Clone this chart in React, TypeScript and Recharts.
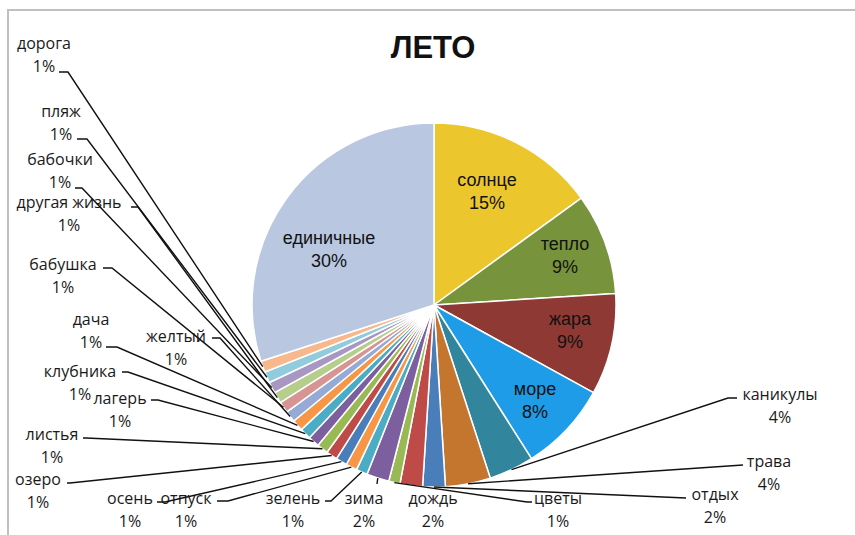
import React from 'react';
import { PieChart, Pie, Cell } from 'recharts';

// words named by respondents, clockwise from 12 o'clock
const WORDS = [
  'солнце', 'тепло', 'жара', 'море', 'каникулы', 'трава', 'отдых', 'дождь', 'цветы', 'зима',
  'зелень', 'отпуск', 'осень', 'озеро', 'листья', 'лагерь', 'клубника', 'дача', 'желтый',
  'бабушка', 'другая жизнь', 'бабочки', 'пляж', 'дорога', 'единичные',
];

// share of answers, %
const SHARES = [15, 9, 9, 8, 4, 4, 2, 2, 1, 2, 1, 1, 1, 1, 1, 1, 1, 1, 1, 1, 1, 1, 1, 1, 30];

const COLORS = [
  '#EBC72D', '#77933C', '#8F3934', '#1F9CE8', '#31859C', '#C4762F', '#4A7EBB', '#BE4B48',
  '#98B954', '#7D5FA0', '#4BACC6', '#F79646', '#4A7EBB', '#BE4B48', '#98B954', '#7D5FA0',
  '#4BACC6', '#F79646', '#95ABD5', '#D69592', '#B5CE8B', '#A897C3', '#92CBDC', '#F9B88C',
  '#B9C7E1',
];

const data = WORDS.map((w, i) => ({ name: w, value: SHARES[i] }));

// where Excel put each label: text centre x, baseline of the percent line,
// and for outside labels the leader bend / end point
type Spot = { x: number; y: number; inside?: boolean; bend?: [number, number]; end?: [number, number] };
const SPOTS: Record<string, Spot> = {
  'солнце': { x: 487, y: 209, inside: true },
  'тепло': { x: 565, y: 273, inside: true },
  'жара': { x: 570, y: 348, inside: true },
  'море': { x: 535, y: 418, inside: true },
  'единичные': { x: 329, y: 267, inside: true },
  'каникулы': { x: 780, y: 423, bend: [728, 398], end: [737, 398] },
  'трава': { x: 769, y: 490, bend: [743, 465], end: [743, 465] },
  'отдых': { x: 715, y: 523, bend: [686, 498], end: [686, 498] },
  'дождь': { x: 433, y: 527 },
  'цветы': { x: 558, y: 527, bend: [527, 502], end: [532, 502] },
  'зима': { x: 364, y: 527, bend: [377, 484], end: [377, 484] },
  'зелень': { x: 293, y: 527, bend: [331, 501], end: [325, 501] },
  'отпуск': { x: 186, y: 527, bend: [228, 501], end: [217, 501] },
  'осень': { x: 130, y: 527, bend: [165, 502], end: [157, 502] },
  'озеро': { x: 38, y: 508, bend: [70, 483], end: [67, 483] },
  'листья': { x: 52, y: 463, bend: [86, 438], end: [83, 438] },
  'лагерь': { x: 120, y: 427, bend: [158, 400], end: [151, 400] },
  'клубника': { x: 80, y: 400, bend: [128, 372], end: [122, 372] },
  'дача': { x: 91, y: 348, bend: [117, 347], end: [106, 347] },
  'желтый': { x: 176, y: 365, bend: [220, 338], end: [212, 338] },
  'бабушка': { x: 63, y: 293, bend: [112, 268], end: [103, 268] },
  'другая жизнь': { x: 69, y: 231, bend: [138, 207], end: [131, 207] },
  'бабочки': { x: 60, y: 188, bend: [82, 188], end: [75, 188] },
  'пляж': { x: 61, y: 140, bend: [87, 139], end: [77, 139] },
  'дорога': { x: 44, y: 72, bend: [68, 72], end: [59, 72] },
};

const RAD = Math.PI / 180;

const renderLabel = (props: any) => {
  const { cx, cy, midAngle, outerRadius, index } = props;
  const name = props.name ?? props.payload?.name;
  const value = props.value ?? props.payload?.value;
  const spot = SPOTS[name];
  if (!spot) return null;

  const font = spot.inside
    ? { fontFamily: '"Liberation Sans", Arial, sans-serif', fontSize: 18, fill: '#111' }
    : { fontFamily: '"Open Sans", sans-serif', fontSize: 16, fill: '#1a1a1a' };

  let leader = null;
  if (spot.bend && spot.end) {
    const ex = cx + outerRadius * Math.cos(-midAngle * RAD);
    const ey = cy + outerRadius * Math.sin(-midAngle * RAD);
    leader = (
      <polyline
        points={`${ex},${ey} ${spot.bend[0]},${spot.bend[1]} ${spot.end[0]},${spot.end[1]}`}
        fill="none"
        stroke="#111"
        strokeWidth={1.4}
      />
    );
  }

  return (
    <g key={`label-${index}`}>
      {leader}
      <text x={spot.x} y={spot.y - 23} textAnchor="middle" {...font}>{name}</text>
      <text x={spot.x} y={spot.y} textAnchor="middle" {...font}>{value}%</text>
    </g>
  );
};

export default function App() {
  return (
    <div style={{ position: 'absolute', left: 0, top: 0, width: 855, height: 535, overflow: 'hidden', background: '#fff' }}>
      {/* chart area frame, only its top and left edges show */}
      <div
        style={{
          position: 'absolute', left: 7, top: 9, width: 900, height: 600,
          borderTop: '2px solid #C0C0C0', borderLeft: '2px solid #C0C0C0',
        }}
      />
      <svg width={855} height={535} style={{ position: 'absolute', left: 0, top: 0 }}>
        <text x={433} y={58} textAnchor="middle" fontFamily='"Liberation Sans", Arial, sans-serif' fontWeight="bold" fontSize={31} fill="#111">
          ЛЕТО
        </text>
      </svg>
      <div style={{ position: 'absolute', left: 0, top: 0 }}>
        <PieChart width={855} height={535} margin={{ top: 0, right: 0, bottom: 0, left: 0 }}>
          <Pie
            data={data}
            dataKey="value"
            nameKey="name"
            cx={434}
            cy={305}
            outerRadius={182}
            startAngle={90}
            endAngle={-270}
            stroke="#fff"
            strokeWidth={1.5}
            label={renderLabel}
            labelLine={false}
            isAnimationActive={false}
          >
            {data.map((entry, index) => (
              <Cell key={`cell-${index}`} fill={COLORS[index]} />
            ))}
          </Pie>
        </PieChart>
      </div>
    </div>
  );
}
